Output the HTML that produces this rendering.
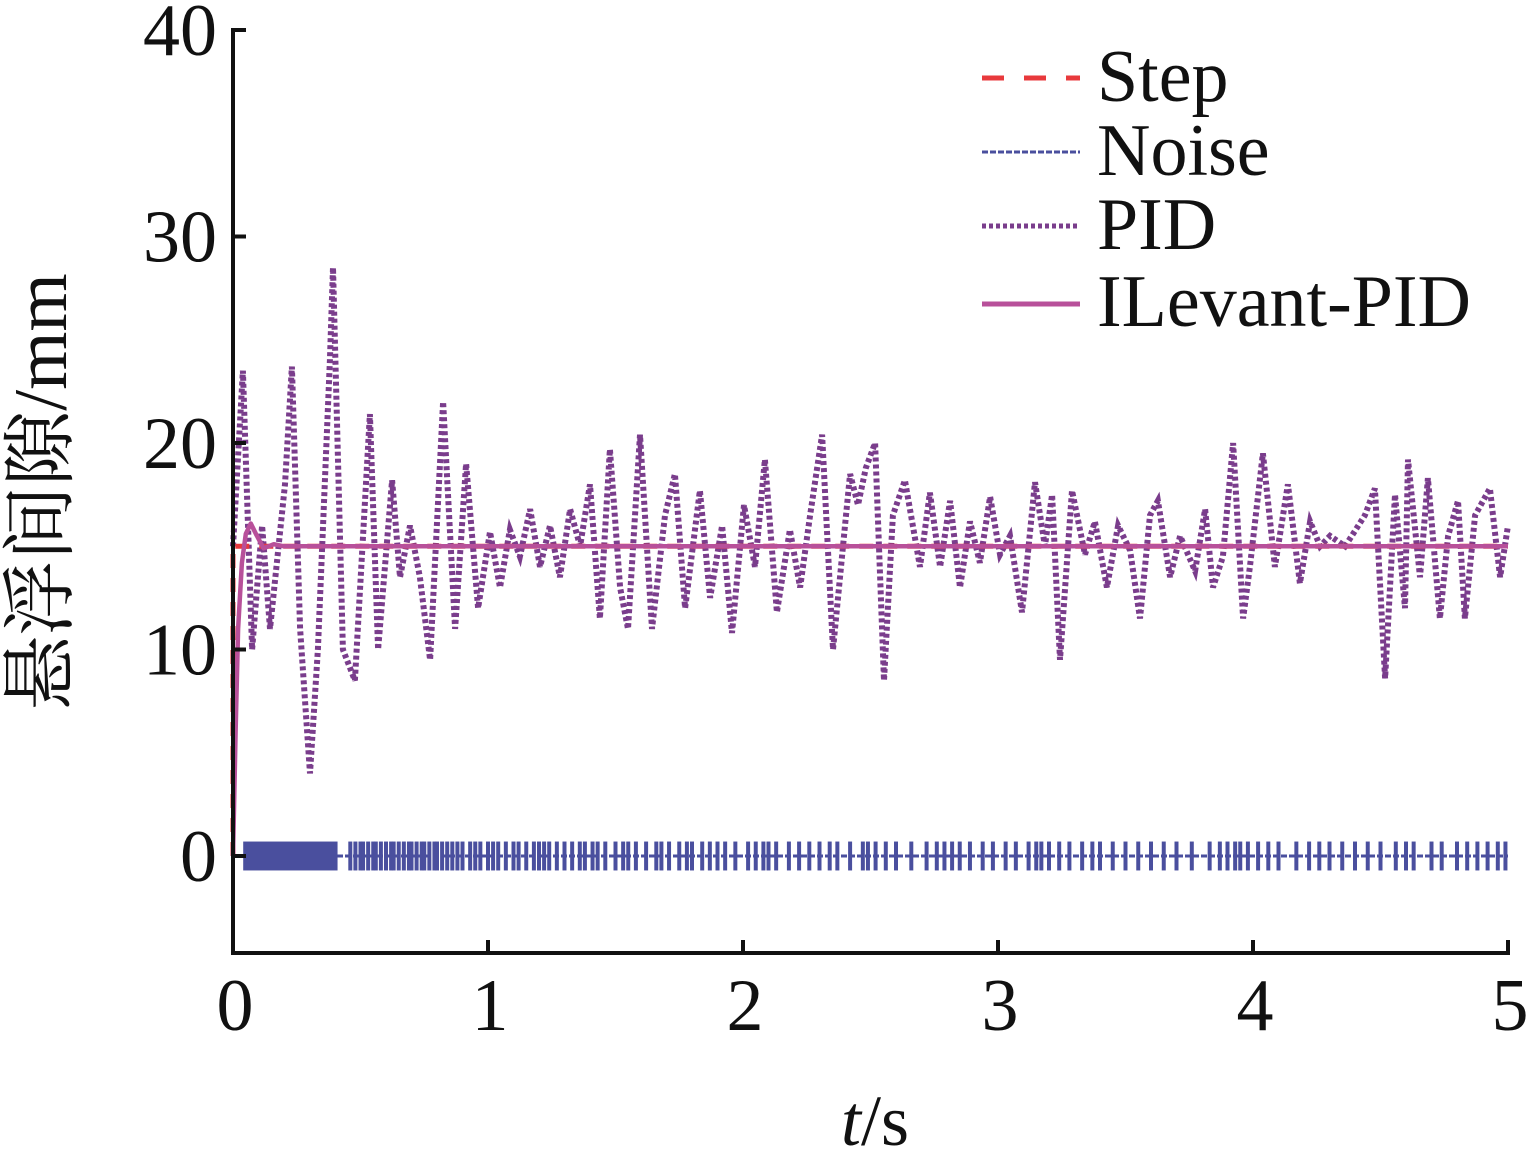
<!DOCTYPE html>
<html><head><meta charset="utf-8"><style>
html,body{margin:0;padding:0;background:#fff;}
svg{display:block;font-family:"Liberation Serif","Noto Serif CJK SC",serif;}
</style></head><body>
<svg id="chart" width="1535" height="1152" viewBox="0 0 1535 1152" xmlns="http://www.w3.org/2000/svg">
<g id="plot"></g>
<g id="axes"></g>
<text transform="translate(66,492) rotate(-90)" text-anchor="middle" font-size="75" font-family="'Liberation Serif','Noto Serif CJK SC',serif" fill="#111">悬浮间隙/mm</text>
<text x="875" y="1145" text-anchor="middle" font-size="72" fill="#111"><tspan font-style="italic">t</tspan>/s</text>
<g>
<g><line x1="982" y1="78" x2="1080" y2="78" stroke="#e8393c" stroke-width="5" stroke-dasharray="22,20"/><text x="1097" y="101" font-size="74" fill="#111">Step</text></g>
<g><line x1="982" y1="152" x2="1080" y2="152" stroke="#4a4f9e" stroke-width="3" stroke-dasharray="6,2"/><text x="1097" y="175" font-size="74" fill="#111">Noise</text></g>
<g><line x1="982" y1="226" x2="1080" y2="226" stroke="#7a3d8c" stroke-width="5" stroke-dasharray="4,3"/><text x="1097" y="249" font-size="74" fill="#111">PID</text></g>
<g><line x1="982" y1="304" x2="1080" y2="304" stroke="#b8509a" stroke-width="5"/><text x="1097" y="326" font-size="74" fill="#111">ILevant-PID</text></g>
</g>
</svg>
<script>
const xTicks=[0,1,2,3,4,5];
const yTicks=[0,10,20,30,40];
const pidT=[0,0.039,0.075,0.114,0.145,0.204,0.231,0.263,0.302,0.333,0.380,0.392,0.431,0.478,0.537,0.569,0.624,0.655,0.694,0.733,0.773,0.824,0.871,0.914,0.961,1.008,1.047,1.086,1.125,1.165,1.204,1.243,1.282,1.322,1.361,1.400,1.439,1.478,1.518,1.549,1.596,1.643,1.694,1.733,1.773,1.831,1.871,1.918,1.957,2.004,2.047,2.086,2.133,2.184,2.224,2.263,2.310,2.353,2.400,2.420,2.451,2.482,2.518,2.553,2.588,2.635,2.694,2.733,2.773,2.812,2.851,2.890,2.929,2.969,3.008,3.047,3.094,3.145,3.184,3.212,3.243,3.290,3.341,3.380,3.427,3.471,3.518,3.557,3.596,3.627,3.675,3.714,3.773,3.812,3.843,3.882,3.922,3.961,3.988,4.039,4.086,4.137,4.184,4.224,4.263,4.302,4.361,4.439,4.478,4.518,4.557,4.596,4.608,4.655,4.686,4.733,4.765,4.804,4.831,4.871,4.929,4.969,5.0];
const pidV=[15,23.5,10,16,11,18,23.7,11,4,10,24,28.5,10,8.5,21.4,10,18.2,13.5,16,13.5,9.5,22,11,19,12,15.7,13,15.8,14.5,16.8,14,16,13.5,16.8,15,18,11.5,19.7,13,11,20.4,11,16.5,18.5,12,17.7,12.5,16,10.8,17,14,19.2,11.8,15.8,13,16.5,20.4,10,16,18.5,17,18.8,20,8.5,16.5,18.2,14,17.6,14,17.2,13,16.2,14.2,17.4,14.6,15.5,11.8,18.1,15,17.5,9.5,17.7,14.6,16.2,13,16,14.8,11.5,16.5,17.2,13.5,15.5,13.8,16.8,13,14.5,20,11.5,14,19.5,14,18,13.2,16.2,15,15.5,15,16.5,17.8,8.6,17.5,12,19.2,13.5,18.3,11.5,15.5,17.2,11.5,16.5,17.8,13.5,16];
const ilT=[0,0.01,0.02,0.035,0.05,0.07,0.09,0.12,0.16,0.2,5];
const ilV=[0,6,11,14.2,15.6,16.1,15.6,14.9,15.1,15,15];
const stepT=[0,0,5];
const stepV=[0,15,15];
const noiseBands=[[0.04,0.41]];
const noiseSpikes=[0.46,0.48,0.5,0.51,0.53,0.55,0.56,0.58,0.6,0.62,0.63,0.65,0.67,0.69,0.7,0.72,0.74,0.75,0.77,0.79,0.8,0.82,0.84,0.86,0.88,0.9,0.93,0.95,0.97,1.0,1.02,1.04,1.07,1.1,1.12,1.15,1.18,1.2,1.22,1.24,1.27,1.3,1.33,1.36,1.38,1.41,1.43,1.46,1.5,1.53,1.55,1.58,1.62,1.66,1.68,1.71,1.75,1.78,1.8,1.84,1.87,1.9,1.93,1.97,2.02,2.05,2.08,2.1,2.13,2.18,2.22,2.26,2.3,2.34,2.37,2.42,2.47,2.49,2.52,2.56,2.6,2.66,2.72,2.76,2.79,2.82,2.85,2.89,2.94,2.98,3.03,3.07,3.12,3.15,3.17,3.2,3.24,3.28,3.33,3.37,3.4,3.45,3.5,3.55,3.6,3.65,3.7,3.76,3.83,3.87,3.9,3.93,3.95,3.98,4.02,4.06,4.1,4.17,4.22,4.26,4.3,4.35,4.4,4.45,4.5,4.56,4.6,4.63,4.7,4.74,4.8,4.84,4.88,4.92,4.96,4.99];
const noiseAmp=0.7;

const X0=233,X1=1508,Y0=856,PXU=20.65,YBOT=953;
const sx=t=>X0+(t-0)/(5-0)*(X1-X0);
const sy=v=>Y0-v*PXU;
const NS='http://www.w3.org/2000/svg';
function mk(tag,attrs,parent){const e=document.createElementNS(NS,tag);for(const k in attrs)e.setAttribute(k,attrs[k]);parent.appendChild(e);return e;}
const plot=document.getElementById('plot'),axes=document.getElementById('axes');
const pts=(T,V)=>T.map((t,i)=>sx(t).toFixed(1)+','+sy(V[i]).toFixed(1)).join(' ');

const ng=mk('g',{},plot);


const base=mk('line',{x1:sx(0),y1:sy(0),x2:sx(5),y2:sy(0),stroke:'#4a4f9e','stroke-width':3,'stroke-dasharray':'6,2'},ng);


noiseBands.forEach(b=>{
 const r=mk('rect',{x:sx(b[0]),y:sy(noiseAmp),width:sx(b[1])-sx(b[0]),height:sy(-noiseAmp)-sy(noiseAmp),fill:'#4a4f9e'},ng);
 
 
});
noiseSpikes.forEach((t,i)=>{
 const l=mk('line',{x1:sx(t),x2:sx(t),y1:sy(noiseAmp),y2:sy(-noiseAmp),stroke:'#4a4f9e','stroke-width':4},ng);
 
 
});
const pid=mk('polyline',{points:pts(pidT,pidV),fill:'none',stroke:'#7a3d8c','stroke-width':6,'stroke-dasharray':'4,3'},plot);


const st=mk('polyline',{points:pts(stepT,stepV),fill:'none',stroke:'#e8393c','stroke-width':5,'stroke-dasharray':'14,10'},plot);


const il=mk('polyline',{points:pts(ilT,ilV),fill:'none',stroke:'#b8509a','stroke-width':4.5,'stroke-linejoin':'round'},plot);



const ya=mk('line',{x1:X0,y1:28,x2:X0,y2:YBOT+2,stroke:'#111','stroke-width':4},axes);


const xa=mk('line',{x1:X0-2,y1:YBOT,x2:X1+2,y2:YBOT,stroke:'#111','stroke-width':4},axes);


yTicks.forEach(v=>{
 const tk=mk('line',{x1:X0,x2:X0+13,y1:sy(v),y2:sy(v),stroke:'#111','stroke-width':4},axes);
 
 
 const tx=mk('text',{x:X0-16,y:sy(v)+25,'text-anchor':'end','font-size':74,fill:'#111'},axes);
 tx.textContent=v;
 
 
});
xTicks.forEach(t=>{
 const tk=mk('line',{x1:sx(t),x2:sx(t),y1:YBOT,y2:YBOT-13,stroke:'#111','stroke-width':4},axes);
 
 
 const tx=mk('text',{x:sx(t)+2,y:1030,'text-anchor':'middle','font-size':74,fill:'#111'},axes);
 tx.textContent=t;
 
 
});
</script>
</body></html>
